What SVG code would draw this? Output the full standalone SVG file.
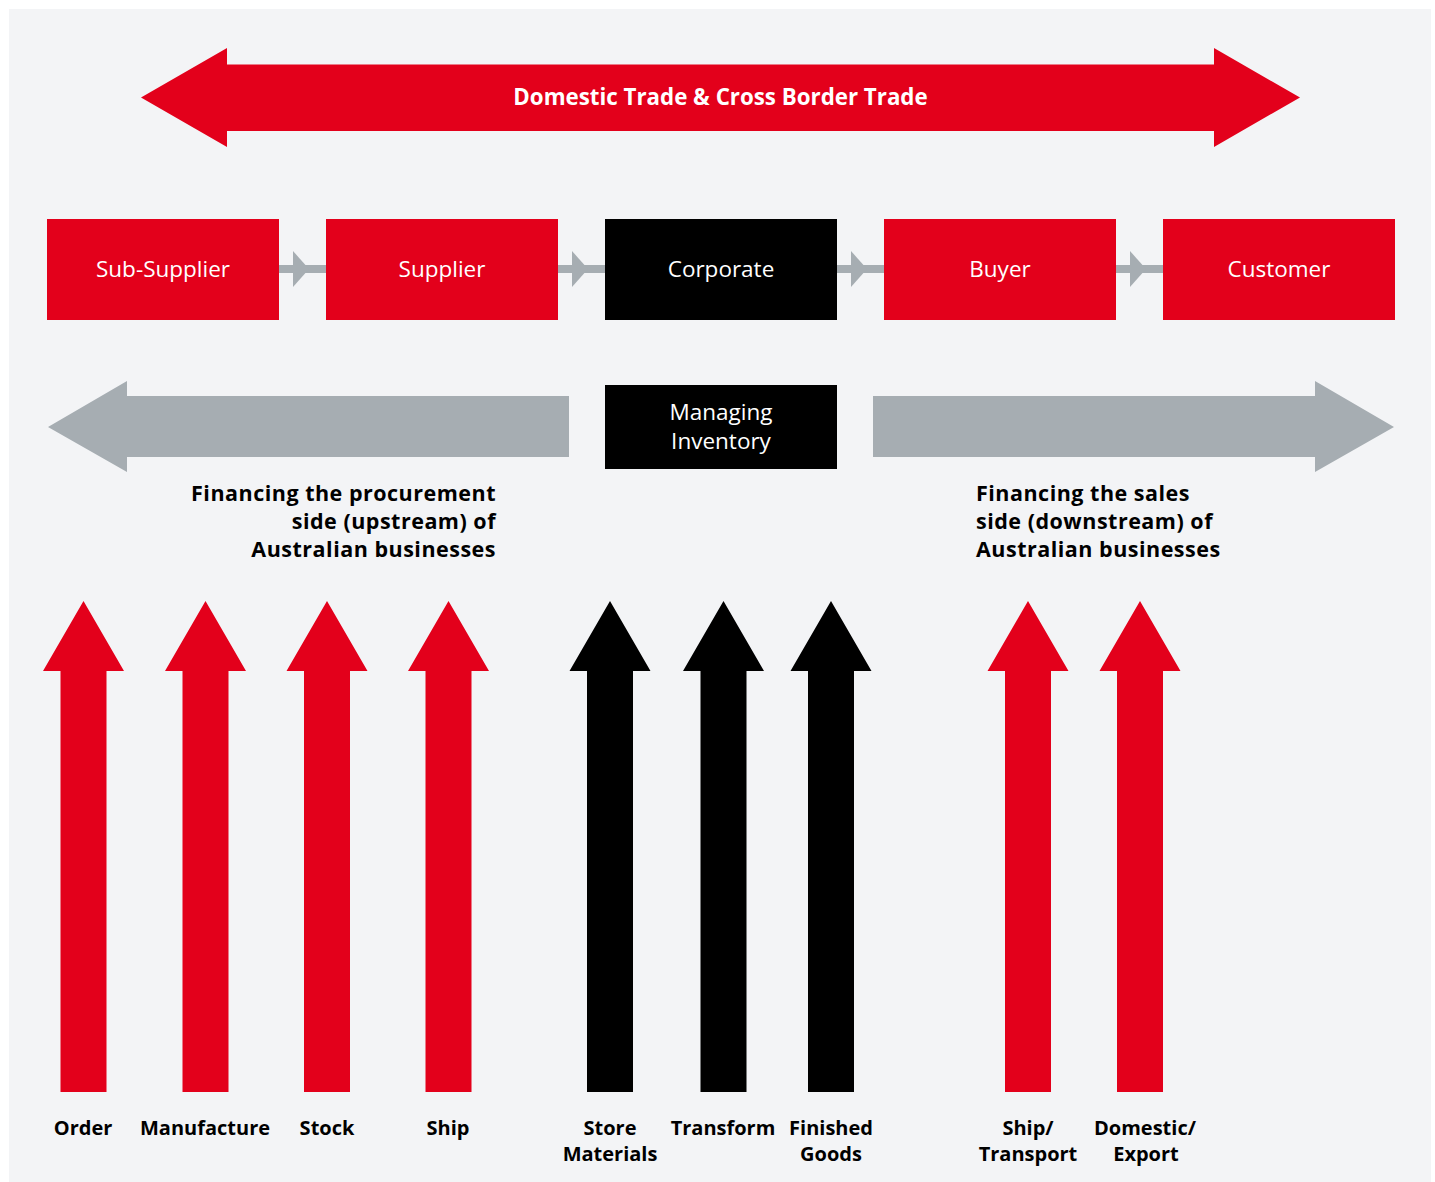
<svg xmlns="http://www.w3.org/2000/svg" width="1435" height="1182" viewBox="0 0 1435 1182">
  <style>
    .red { fill: #e3001b; }
    .blk { fill: #000000; }
    .gry { fill: #a6adb2; }
    .node-text { font-family: "Open Sans", "Noto Sans", "Liberation Sans", sans-serif; font-size: 22.5px; fill: #ffffff; text-anchor: middle; }
    .title { font-family: "Open Sans", "Noto Sans", "Liberation Sans", sans-serif; font-size: 22.3px; font-weight: bold; fill: #ffffff; text-anchor: middle; }
    .head { font-family: "Open Sans", "Noto Sans", "Liberation Sans", sans-serif; font-size: 21.5px; letter-spacing: 0.5px; font-weight: bold; fill: #000000; }
    .lbl { font-family: "Open Sans", "Noto Sans", "Liberation Sans", sans-serif; font-size: 20px; font-weight: bold; fill: #000000; text-anchor: middle; }
  </style>
  <defs>
    <!-- upward block arrow, centred on x=0 -->
    <path id="up-arrow" d="M0 601 L40.5 671 L23 671 L23 1092 L-23 1092 L-23 671 L-40.5 671 Z"/>
    <!-- small gray connector between neighbouring boxes -->
    <g id="link">
      <rect x="0" y="265" width="47" height="8"/>
      <path d="M14 251 L30 269 L14 287 Z"/>
    </g>
  </defs>

  <rect width="1435" height="1182" fill="#ffffff"/>
  <rect x="9" y="9" width="1422" height="1173" fill="#f3f4f6"/>

  <!-- trade banner -->
  <g id="trade-banner">
    <path class="red" d="M141 97.5 L227 48 L227 64.5 L1214 64.5 L1214 48 L1300 97.5 L1214 147 L1214 131 L227 131 L227 147 Z"/>
    <text class="title" x="720.5" y="104.5">Domestic Trade &amp; Cross Border Trade</text>
  </g>

  <!-- supply chain connectors -->
  <g id="connectors" class="gry">
    <use href="#link" x="279"/>
    <use href="#link" x="558"/>
    <use href="#link" x="837"/>
    <use href="#link" x="1116"/>
  </g>

  <!-- supply chain nodes -->
  <g id="sub-supplier">
    <rect class="red" x="47" y="219" width="232" height="101"/>
    <text class="node-text" x="163" y="277">Sub-Supplier</text>
  </g>
  <g id="supplier">
    <rect class="red" x="326" y="219" width="232" height="101"/>
    <text class="node-text" x="442" y="277">Supplier</text>
  </g>
  <g id="corporate">
    <rect class="blk" x="605" y="219" width="232" height="101"/>
    <text class="node-text" x="721" y="277">Corporate</text>
  </g>
  <g id="buyer">
    <rect class="red" x="884" y="219" width="232" height="101"/>
    <text class="node-text" x="1000" y="277">Buyer</text>
  </g>
  <g id="customer">
    <rect class="red" x="1163" y="219" width="232" height="101"/>
    <text class="node-text" x="1279" y="277">Customer</text>
  </g>

  <!-- financing direction arrows -->
  <g id="upstream-arrow">
    <path class="gry" d="M48 427 L127 381 L127 396 L569 396 L569 457 L127 457 L127 472 Z"/>
    <text class="head" text-anchor="end" x="496" y="501">Financing the procurement<tspan x="496" dy="28">side (upstream) of</tspan><tspan x="496" dy="28">Australian businesses</tspan></text>
  </g>
  <g id="managing-inventory">
    <rect class="blk" x="605" y="385" width="232" height="84"/>
    <text class="node-text" x="721" y="420">Managing<tspan x="721" dy="28.5">Inventory</tspan></text>
  </g>
  <g id="downstream-arrow">
    <path class="gry" d="M873 396 L1315 396 L1315 381 L1394 427 L1315 472 L1315 457 L873 457 Z"/>
    <text class="head" x="976" y="501">Financing the sales<tspan x="976" dy="28">side (downstream) of</tspan><tspan x="976" dy="28">Australian businesses</tspan></text>
  </g>

  <!-- process steps -->
  <g id="order">
    <use href="#up-arrow" class="red" x="83.5"/>
    <text class="lbl" x="83" y="1135">Order</text>
  </g>
  <g id="manufacture">
    <use href="#up-arrow" class="red" x="205.5"/>
    <text class="lbl" x="205" y="1135">Manufacture</text>
  </g>
  <g id="stock">
    <use href="#up-arrow" class="red" x="327"/>
    <text class="lbl" x="327" y="1135">Stock</text>
  </g>
  <g id="ship">
    <use href="#up-arrow" class="red" x="448.5"/>
    <text class="lbl" x="448" y="1135">Ship</text>
  </g>
  <g id="store-materials">
    <use href="#up-arrow" class="blk" x="610"/>
    <text class="lbl" x="610" y="1135">Store<tspan x="610" dy="26">Materials</tspan></text>
  </g>
  <g id="transform">
    <use href="#up-arrow" class="blk" x="723.5"/>
    <text class="lbl" x="723" y="1135">Transform</text>
  </g>
  <g id="finished-goods">
    <use href="#up-arrow" class="blk" x="831"/>
    <text class="lbl" x="831" y="1135">Finished<tspan x="831" dy="26">Goods</tspan></text>
  </g>
  <g id="ship-transport">
    <use href="#up-arrow" class="red" x="1028"/>
    <text class="lbl" x="1028" y="1135">Ship/<tspan x="1028" dy="26">Transport</tspan></text>
  </g>
  <g id="domestic-export">
    <use href="#up-arrow" class="red" x="1140"/>
    <text class="lbl" x="1145" y="1135">Domestic/<tspan x="1146" dy="26">Export</tspan></text>
  </g>
</svg>
